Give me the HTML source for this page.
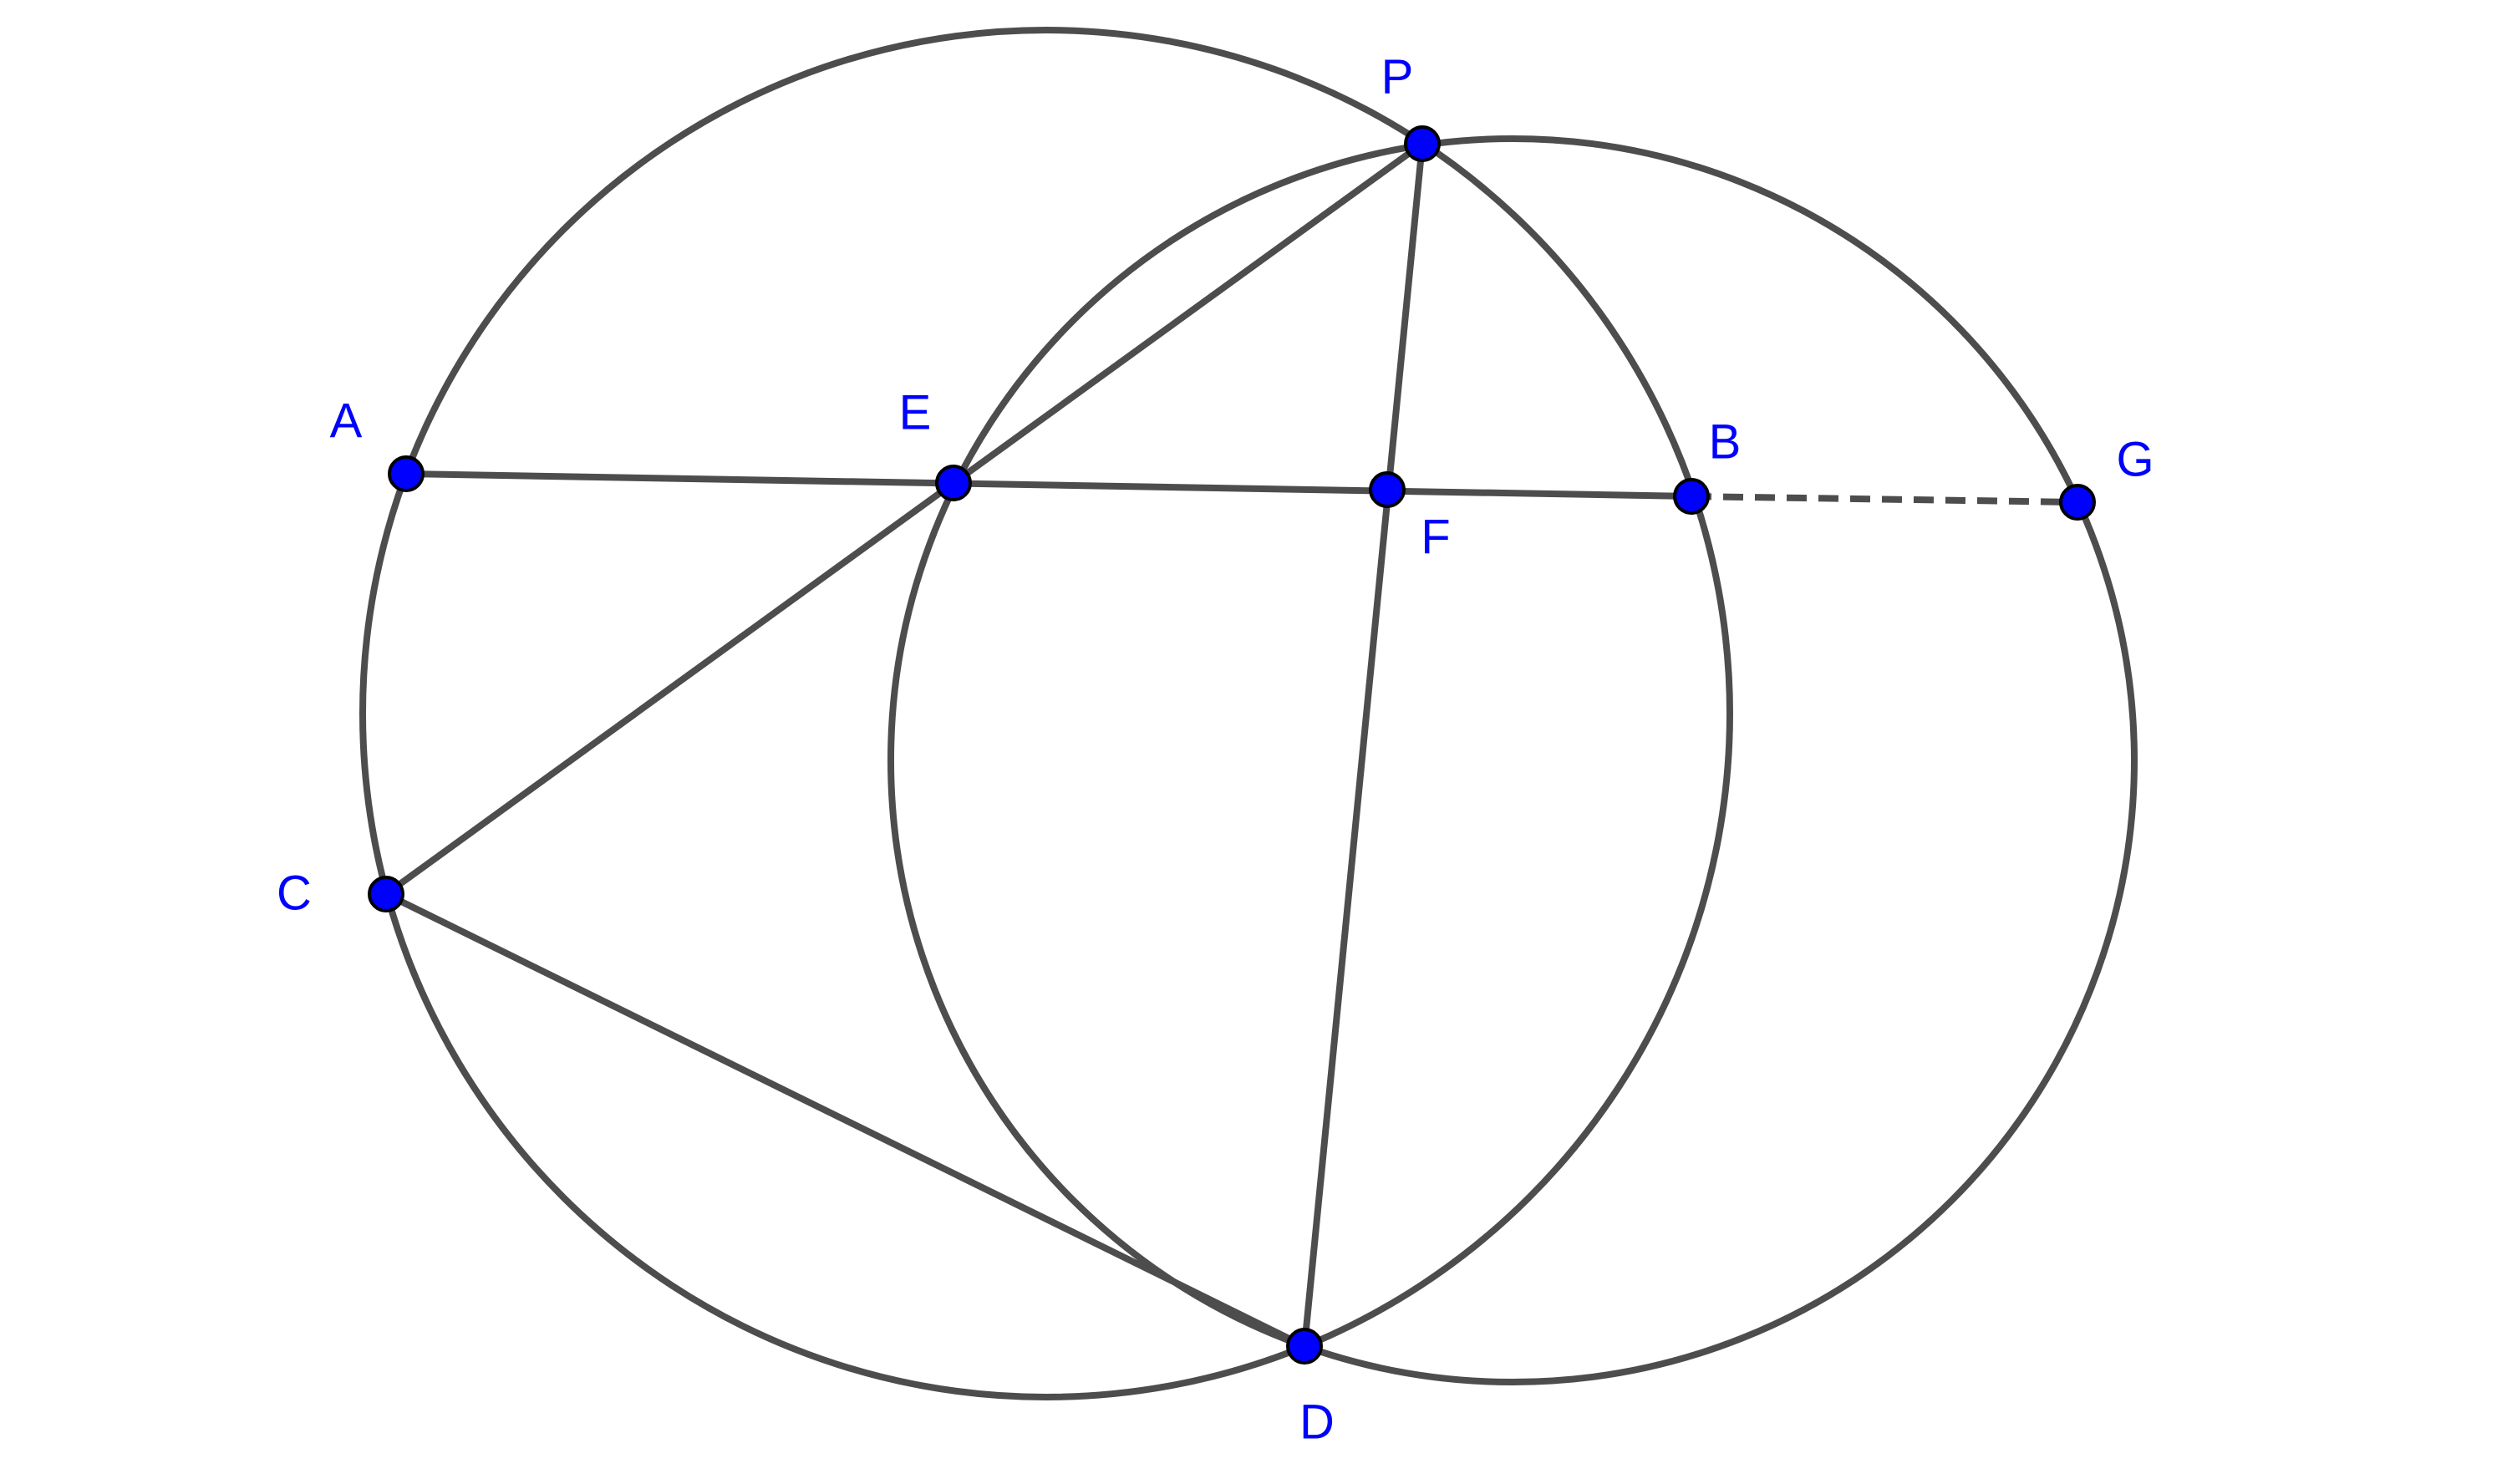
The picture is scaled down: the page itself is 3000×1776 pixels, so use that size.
<!DOCTYPE html>
<html><head><meta charset="utf-8"><style>html,body{margin:0;padding:0;background:#fff}svg{display:block}</style></head>
<body>
<svg width="3000" height="1776" viewBox="0 0 3000 1776" xmlns="http://www.w3.org/2000/svg">
<g fill="none" stroke="#4d4d4d" stroke-width="8">
<circle cx="1252" cy="854" r="818"/>
<circle cx="1810" cy="910" r="744"/>
<line x1="486" y1="567" x2="2024" y2="594"/>
<line x1="2024" y1="594" x2="2486" y2="601" stroke-dasharray="24,14"/>
<line x1="1702" y1="172" x2="462" y2="1070"/>
<line x1="1702" y1="172" x2="1561" y2="1611"/>
<line x1="462" y1="1070" x2="1561" y2="1611"/>
</g>
<g fill="#0000ff" stroke="#000" stroke-width="4">
<circle cx="1702" cy="172" r="20"/>
<circle cx="486" cy="567" r="20"/>
<circle cx="1141" cy="578" r="20"/>
<circle cx="1660" cy="586" r="20"/>
<circle cx="2024" cy="594" r="20"/>
<circle cx="2486" cy="601" r="20"/>
<circle cx="462" cy="1070" r="20"/>
<circle cx="1561" cy="1611" r="20"/>
</g>
<g fill="#0000ff" font-family="Liberation Sans, sans-serif" font-size="58" text-anchor="middle" dominant-baseline="central">
<text x="1672" y="92">P</text>
<text x="414" y="504">A</text>
<text x="1095" y="494">E</text>
<text x="2064" y="529">B</text>
<text x="2555" y="550">G</text>
<text x="1718" y="643">F</text>
<text x="352" y="1069">C</text>
<text x="1576" y="1702">D</text>
</g>
</svg>
</body></html>
